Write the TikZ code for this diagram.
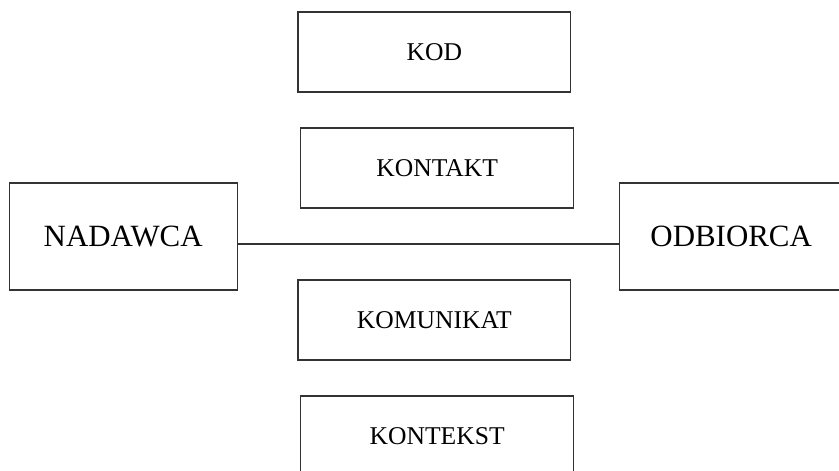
\documentclass[tikz,border=0pt]{standalone}
\usepackage{fontspec}
\setmainfont{Liberation Serif}
\usetikzlibrary{positioning}

\begin{document}
\begin{tikzpicture}[
  part/.style={draw=black!80, line width=0.9pt, inner sep=0pt, minimum width=6.82cm, minimum height=2cm, align=center, font=\fontsize{18.2}{20}\selectfont},
  party/.style={draw=black!80, line width=0.9pt, inner sep=0pt, minimum height=2.675cm, align=center, font=\fontsize{22}{24}\selectfont},
  link/.style={draw=black!80, line width=0.9pt}
]
\useasboundingbox (0,0) rectangle (20.975,-11.775);
\clip (0,0) rectangle (20.975,-11.775);

% Middle column: factors of the act
\node[part] (kod) at (10.86,-1.30) {KOD};
\node[part] (kontakt) at (10.93,-4.20) {KONTAKT};
\node[part] (komunikat) at (10.86,-8.00) {KOMUNIKAT};
\node[part] (kontekst) at (10.93,-10.90) {KONTEKST};

% Sides: sender and receiver
\node[party, minimum width=5.7cm] (nadawca) at (3.08,-5.91) {NADAWCA};
\node[party, minimum width=5.6cm] (odbiorca) at (18.28,-5.91) {ODBIORCA};

\draw[link] ([yshift=-1.9mm]nadawca.east) -- ([yshift=-1.9mm]odbiorca.west);

\end{tikzpicture}
\end{document}
